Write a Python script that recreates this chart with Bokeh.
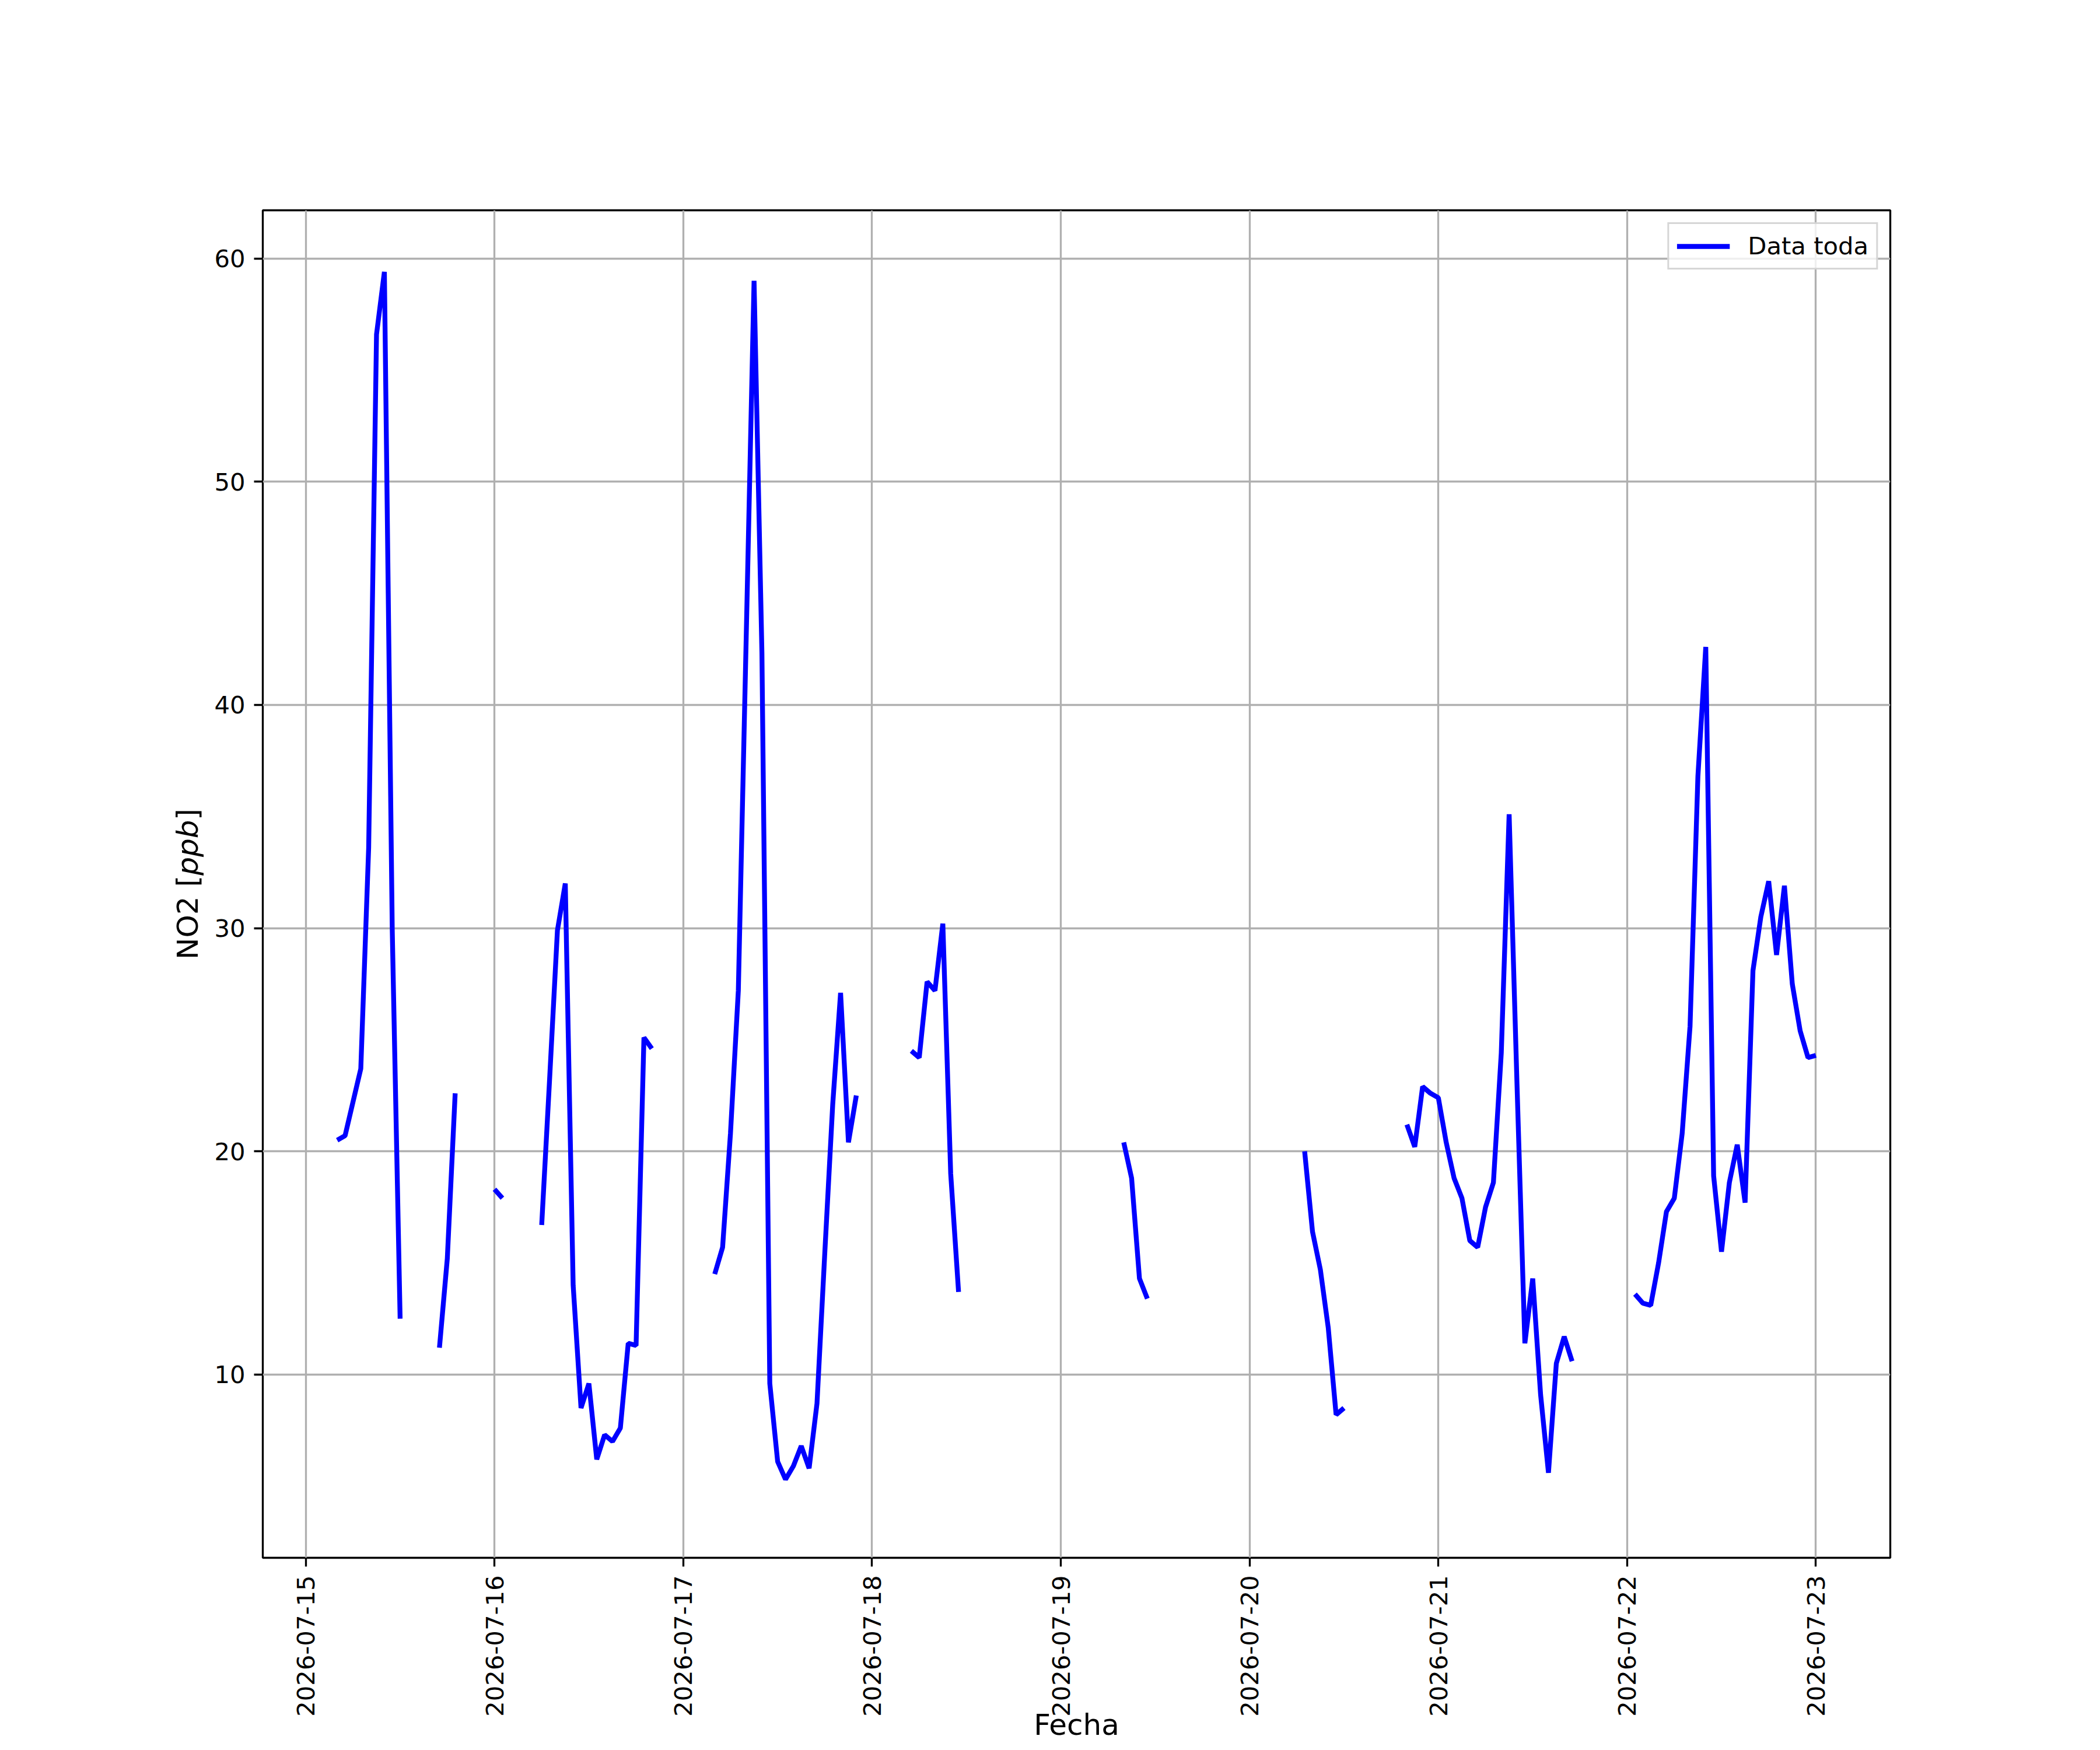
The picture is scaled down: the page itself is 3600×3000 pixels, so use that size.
import numpy as np
import pandas as pd
from bokeh.plotting import figure
from bokeh.models import (ColumnDataSource, FixedTicker, DatetimeTickFormatter,
                          Range1d, Label)
from bokeh.embed import file_html
from bokeh.resources import INLINE

# ---------------- data (hourly NO2 readings, gaps between segments) ----------------
seg_starts = [
    "2026-07-15 04:00", "2026-07-15 17:00", "2026-07-16 00:00", "2026-07-16 06:00",
    "2026-07-17 04:00", "2026-07-18 05:00", "2026-07-19 08:00", "2026-07-20 07:00",
    "2026-07-20 20:00", "2026-07-22 01:00",
]
seg_1 = [20.5, 20.7, 22.2, 23.7, 33.6, 56.6, 59.4, 29.9, 12.5]
seg_2 = [11.2, 15.2, 22.6]
seg_3 = [18.3, 17.9]
seg_4 = [16.7, 23.2, 29.9, 32.0, 14.0, 8.5, 9.6, 6.2, 7.3, 7.0, 7.6, 11.4, 11.3, 25.1, 24.6]
seg_5 = [14.5, 15.7, 20.8, 27.2, 43.0, 59.0, 42.3, 9.6, 6.1, 5.3, 5.9, 6.8, 5.8, 8.7,
         15.5, 22.1, 27.1, 20.4, 22.5]
seg_6 = [24.5, 24.2, 27.6, 27.2, 30.2, 19.0, 13.7]
seg_7 = [20.4, 18.8, 14.3, 13.4]
seg_8 = [20.0, 16.4, 14.7, 12.1, 8.2, 8.5]
seg_9 = [21.2, 20.2, 22.9, 22.6, 22.4, 20.4, 18.8, 17.9, 16.0, 15.7, 17.5, 18.6, 24.4,
         35.1, 23.0, 11.4, 14.3, 9.1, 5.6, 10.5, 11.7, 10.6]
seg_10 = [13.6, 13.2, 13.1, 15.0, 17.3, 17.9, 20.8, 25.6, 36.8, 42.6, 18.9, 15.5, 18.6,
          20.3, 17.7, 28.1, 30.5, 32.1, 28.8, 31.9, 27.5, 25.4, 24.2, 24.3]
seg_values = [seg_1, seg_2, seg_3, seg_4, seg_5, seg_6, seg_7, seg_8, seg_9, seg_10]

tick_dates = ["2026-07-15", "2026-07-16", "2026-07-17", "2026-07-18", "2026-07-19",
              "2026-07-20", "2026-07-21", "2026-07-22", "2026-07-23"]
y_ticks = [10, 20, 30, 40, 50, 60]
series_label = "Data toda"
x_title = "Fecha"
y_title_parts = [("NO2 [", "normal"), ("ppb", "italic"), ("]", "normal")]

# ---------------- build series with NaN gaps ----------------
times, vals = [], []
for start, v in zip(seg_starts, seg_values):
    t0 = pd.Timestamp(start)
    for i, y in enumerate(v):
        times.append(t0 + pd.Timedelta(hours=i))
        vals.append(y)
    times.append(t0 + pd.Timedelta(hours=len(v)))
    vals.append(np.nan)
src = ColumnDataSource(dict(t=times, v=vals))

base = pd.Timestamp(tick_dates[0])
def ms(ts):
    return ts.value / 1e6

W, H = 3584, 2992
p = figure(width=W, height=H, x_axis_type="datetime", output_backend="svg",
           toolbar_location=None,
           x_range=Range1d(ms(base - pd.Timedelta(hours=5.46)), ms(base + pd.Timedelta(hours=201.46))),
           y_range=Range1d(1.79, 62.16),
           min_border_left=450, min_border_right=W - 3240, min_border_top=360,
           min_border_bottom=H - 2670)
p.background_fill_color = "white"
p.border_fill_color = "white"
p.outline_line_color = "black"
p.outline_line_width = 3.33

p.line("t", "v", source=src, line_color="#0000ff", line_width=8.3, legend_label=series_label)

# axes
FONT = "DejaVu Sans"
for ax in (p.xaxis[0], p.yaxis[0]):
    ax.axis_line_color = None
    ax.major_tick_line_color = "black"
    ax.major_tick_line_width = 3.33
    ax.major_tick_out = 15
    ax.major_tick_in = 0
    ax.minor_tick_line_color = None
    ax.major_label_text_font = FONT
    ax.major_label_text_font_size = "41.7px"
    ax.major_label_text_color = "black"
    ax.major_label_standoff = 15

p.xaxis.ticker = FixedTicker(ticks=[ms(pd.Timestamp(d)) for d in tick_dates])
fmt = "%Y-%m-%d"
p.xaxis.formatter = DatetimeTickFormatter(days=fmt, months=fmt, years=fmt, hours=fmt,
                                          hourmin=fmt, minutes=fmt, minsec=fmt,
                                          seconds=fmt, milliseconds=fmt, microseconds=fmt)
p.xaxis.major_label_orientation = np.pi / 2
p.yaxis.ticker = FixedTicker(ticks=y_ticks)

# axis titles drawn as labels in the (unclipped) left panel
lbl_x = ms(base - pd.Timedelta(hours=15.0))
lbl_ys = [28.59, 32.36, 34.84]
for (txt, style), yv in zip(y_title_parts, lbl_ys):
    p.add_layout(Label(x=lbl_x, y=yv, x_units="data", y_units="data", text=txt,
                       angle=np.pi / 2, text_align="left", text_baseline="alphabetic",
                       text_font=FONT, text_font_size="50px", text_font_style=style,
                       text_color="black"), "left")
x_mid = ms(base + pd.Timedelta(hours=98.0))
p.add_layout(Label(x=x_mid, y=-5.69, x_units="data", y_units="data", text=x_title,
                   text_align="center", text_baseline="alphabetic",
                   text_font=FONT, text_font_size="50px", text_color="black"), "left")

# grid
for g in (p.xgrid[0], p.ygrid[0]):
    g.grid_line_color = "#b0b0b0"
    g.grid_line_width = 3.33
p.xgrid.ticker = p.xaxis[0].ticker
p.ygrid.ticker = p.yaxis[0].ticker

# legend
lg = p.legend[0]
lg.location = "top_right"
lg.margin = 21
lg.padding = 13
lg.spacing = 0
lg.glyph_width = 91
lg.glyph_height = 36
lg.label_height = 36
lg.label_standoff = 31
lg.label_text_font = FONT
lg.label_text_font_size = "41.7px"
lg.label_text_color = "black"
lg.border_line_color = "#cccccc"
lg.border_line_width = 3.3
lg.border_line_alpha = 0.8
lg.background_fill_color = "white"
lg.background_fill_alpha = 0.8

open("out.html", "w").write(file_html(p, INLINE))
